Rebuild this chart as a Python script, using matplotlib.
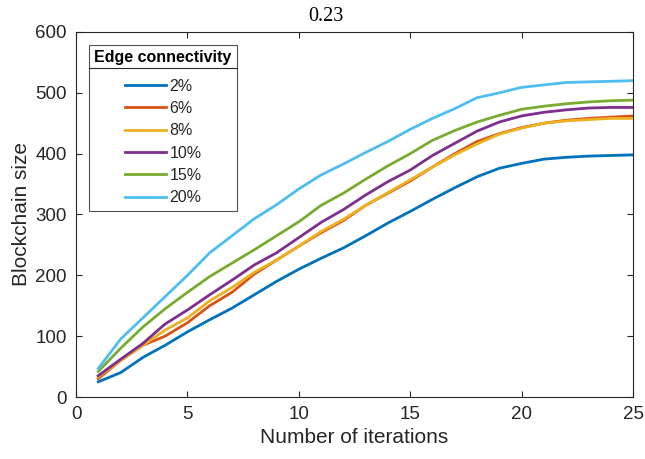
import matplotlib
matplotlib.use("Agg")
import matplotlib.pyplot as plt
from matplotlib.lines import Line2D

iterations = list(range(1, 26))
labels = ["2%", "6%", "8%", "10%", "15%", "20%"]
s2 = [25, 40, 65, 85, 107, 127, 146, 168, 190, 210, 228, 245, 265, 286, 305, 325, 344, 362, 376, 384, 391, 394, 396, 397, 398]
s6 = [30, 60, 85, 100, 122, 150, 172, 202, 225, 248, 270, 290, 315, 335, 355, 378, 400, 420, 433, 443, 450, 455, 458, 460, 462]
s8 = [33, 60, 85, 110, 130, 158, 180, 205, 225, 248, 272, 292, 315, 336, 357, 378, 398, 416, 432, 442, 450, 454, 456, 458, 458]
s10 = [35, 62, 88, 120, 143, 168, 192, 217, 237, 262, 287, 308, 332, 354, 373, 397, 417, 437, 452, 462, 468, 472, 475, 476, 476]
s15 = [42, 80, 115, 145, 172, 198, 220, 242, 265, 288, 315, 335, 358, 380, 400, 422, 438, 452, 463, 473, 478, 482, 485, 487, 488]
s20 = [47, 95, 130, 165, 200, 237, 265, 293, 316, 342, 365, 383, 402, 420, 440, 458, 474, 492, 500, 509, 513, 517, 518, 519, 520]
series = [s2, s6, s8, s10, s15, s20]
colors = ["#0072BD", "#D95319", "#EDB120", "#7E2F8E", "#77AC30", "#4DBEEE"]
x_ticks = [0, 5, 10, 15, 20, 25]
y_ticks = [0, 100, 200, 300, 400, 500, 600]

W, H = 645, 459
plt.rcParams['font.family'] = ['Liberation Sans', 'DejaVu Sans']
fig = plt.figure(figsize=(W / 100, H / 100), dpi=100)
ax_l, ax_r, ax_t, ax_b = 76, 633, 32, 397
ax = fig.add_axes([ax_l / W, 1 - ax_b / H, (ax_r - ax_l) / W, (ax_b - ax_t) / H])
for ys, c, lab in zip(series, colors, labels):
    ax.plot(iterations, ys, color=c, lw=2, label=lab)
ax.set_xlim(0, 25)
ax.set_ylim(0, 600)
ax.set_xticks(x_ticks)
ax.set_yticks(y_ticks)
ax.tick_params(direction='in', top=True, right=True, labelsize=13.5, colors='#262626',
               length=4, width=0.8, pad=6.5)
for sp in ax.spines.values():
    sp.set_color('#262626')
    sp.set_linewidth(0.8)
ax.set_xlabel("Number of iterations", fontsize=15, color='#262626', labelpad=3.5)
ax.set_ylabel("Blockchain size", fontsize=15, color='#262626', labelpad=3.3)
fig.text(325.5 / W, 1 - 21 / H, "0.23", fontsize=14.5, family='Liberation Serif',
         ha='center', va='baseline')

leg = ax.legend(title="Edge connectivity", loc='upper left',
                bbox_to_anchor=((89 - ax_l) / (ax_r - ax_l), 1 - (45 - ax_t) / (ax_b - ax_t)),
                fontsize=11.5, title_fontproperties={'weight': 'bold', 'size': 11.5},
                frameon=True, fancybox=False, edgecolor='#262626', handlelength=2.6,
                handletextpad=0.19, labelspacing=0.46, borderpad=0.34, borderaxespad=0,
                alignment='center')
leg.get_frame().set_linewidth(0.8)
leg._legend_box.sep = 9.5
for t in leg.get_texts():
    t.set_color('#262626')

fig.canvas.draw()
r = fig.canvas.get_renderer()
fb = leg.get_frame().get_window_extent(r)
tb = leg.get_title().get_window_extent(r)
ysep = tb.y0 - 3
inv = fig.transFigure.inverted()
(x0, y0) = inv.transform((fb.x0, ysep))
(x1, _) = inv.transform((fb.x1, ysep))
fig.add_artist(Line2D([x0, x1], [y0, y0], color='#262626', lw=0.8, transform=fig.transFigure))

fig.savefig("out.png", dpi=100)
